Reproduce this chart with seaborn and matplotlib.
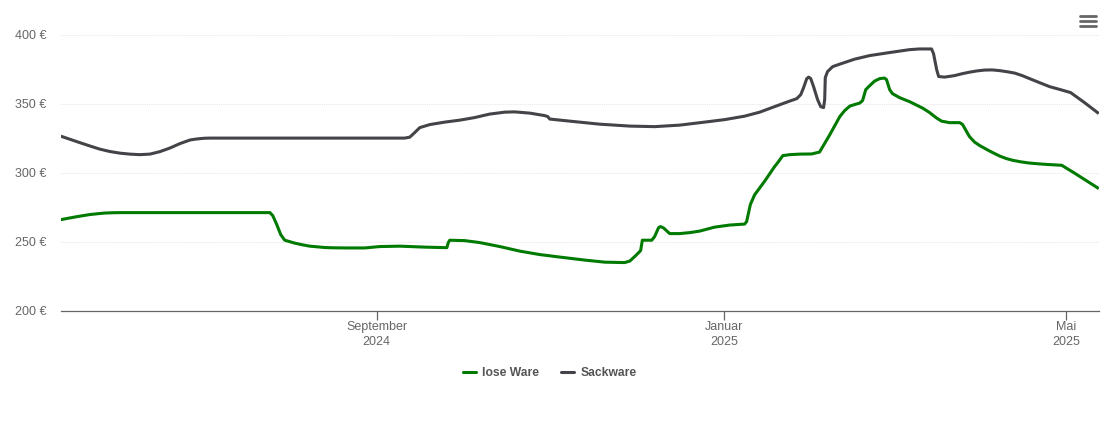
import matplotlib
matplotlib.use("Agg")
import matplotlib.pyplot as plt
from matplotlib.lines import Line2D
import pandas as pd
import seaborn as sns

# x values: days relative to 1 September 2024
green_days = [-110.9,-106,-103.4,-100.7,-98,-95.4,-92.8,-90.2,-37.5,-36.5,-35.1,-33.7,-32.3,-28.8,-26.2,-23.5,-18.2,-15,-11.2,-4.2,1,8.1,16.8,24.6,25.1,25.6,30.9,36.1,43.2,50.2,57.2,64.2,73,80,87,88.8,90.9,92.6,93.2,96.5,97.5,98.9,99.6,100.7,102.8,106.3,109.8,113.3,118.6,123.9,129.1,129.8,131.1,132.6,136.1,139.6,141,142.5,144.9,148.4,152.6,155.4,159,162.5,164.2,166,167.7,169.5,170.5,171.6,173,174.7,176.5,178.2,178.9,180,181,183.5,187,191.6,194,196.5,198.2,201,204.6,205.6,208,209.8,211.6,215.1,218.6,220.9,223.2,226,229.1,232.6,236.1,240.4,244.9,253.4]
green_vals = [265.9,267.8,268.7,269.6,270.2,270.7,270.9,271,271,268.8,262.3,255,251,248.9,247.7,246.7,245.7,245.5,245.4,245.4,246.4,246.7,246,245.6,249.3,251,250.7,249.3,246.4,243.1,240.6,238.8,236.6,235.1,234.8,235.9,239.9,243.5,251,251,253.6,260.1,260.9,259.8,255.8,255.8,256.5,257.6,260.5,262,262.7,264.5,276.8,283.9,293.7,304.3,308,312.3,313,313.4,313.5,314.9,327.5,340.6,344.9,348.2,349.3,350.4,352.2,360.1,363,366.3,368.1,368.5,367.4,360.1,357.2,354.3,351.4,346.7,343.5,339.5,337.3,336.2,336.2,334.8,326.1,322.1,319.6,315.6,312,310.2,308.9,307.8,306.9,306.3,305.8,305.3,299.6,288.4]
dark_days = [-110.9,-104.2,-100.7,-97.2,-93.7,-90.2,-86.7,-83.2,-79.6,-76.1,-72.6,-69.1,-65.6,-63.8,-62.1,-60.4,-58.6,9.8,11.6,13.3,15.1,18.6,23.9,29.1,34.4,39.6,44.9,48.4,53.7,58.9,60,60.7,67.7,78.2,88.8,97.5,106.3,115.1,122.1,129.1,134.4,139.6,144.9,147.4,148.8,149.8,150.9,151.6,152.3,153.3,154.7,155.8,156.8,157.2,157.4,158.2,160,162.5,167.7,173,180,187,190.5,194.7,195.4,196.5,197.2,199.3,202.8,205.5,208.1,210.7,213.3,216,218.6,221.2,223.9,226.5,229.1,232.6,236.1,239.8,243.5,248.4,253.4]
dark_vals = [326.4,321.7,319.3,317,315.3,314.1,313.4,313,313.4,315.2,317.8,321,323.6,324.2,324.6,324.9,325,325,325.7,329,332.6,334.8,336.6,338,339.9,342.4,343.8,344,343.1,341.3,340.6,338.8,337.3,335.1,333.7,333.3,334.4,336.6,338.4,340.9,343.8,347.8,351.8,353.6,356.5,361.6,368.1,369.2,368.1,362.3,352.9,347.8,347.1,352.9,368.8,373.2,376.8,378.6,382.2,384.8,387,389.1,389.6,389.6,386.2,374.6,369.6,369.2,370.3,371.7,372.8,373.7,374.3,374.4,373.9,373.1,372.1,370.3,368.1,365.2,362.3,360.2,358,350.7,342.8]
series_names = ["lose Ware", "Sackware"]
x_ticks = [0, 122, 242]
x_labels = ["September\n2024", "Januar\n2025", "Mai\n2025"]
y_ticks = [200, 250, 300, 350, 400]
y_labels = ["200 €", "250 €", "300 €", "350 €", "400 €"]

sns.set_theme(style="white")
plt.rcParams["font.family"] = ["Liberation Sans", "DejaVu Sans"]

df = pd.concat([
    pd.DataFrame({"day": green_days, "price": green_vals, "series": series_names[0]}),
    pd.DataFrame({"day": dark_days, "price": dark_vals, "series": series_names[1]}),
])

fig = plt.figure(figsize=(11.1, 4.22), dpi=100)
ax = fig.add_axes([60.8/1110, 1-310.6/422, (1098.8-60.8)/1110, (310.6-34.6)/422])
sns.lineplot(data=df, x="day", y="price", hue="series", palette=["#007a00", "#434348"],
             estimator=None, sort=False, linewidth=2.2, ax=ax, legend=False, zorder=3)
for l in ax.get_lines():
    l.set_solid_joinstyle("round")
    l.set_solid_capstyle("butt")

ax.set_xlim(-110.9, 253.4)
ax.set_ylim(200, 400)
ax.set_xlabel("")
ax.set_ylabel("")
ax.set_xticks(x_ticks, x_labels)
ax.set_yticks(y_ticks, y_labels)
ax.tick_params(axis="x", length=6.2, width=0.9, color="#666666", labelsize=9, labelcolor="#666666", pad=1.2, bottom=True)
ax.tick_params(axis="y", length=0, labelsize=9, labelcolor="#666666", pad=10.6)
ax.grid(axis="y", color="#e6e6e6", linewidth=0.7, linestyle=(0, (1, 1)))
ax.set_axisbelow(True)
for s in ["top", "left", "right"]:
    ax.spines[s].set_visible(False)
ax.spines["bottom"].set_color("#666666")
ax.spines["bottom"].set_linewidth(0.9)
for t in ax.get_xticklabels():
    t.set_linespacing(1.3)

handles = [Line2D([], [], color="#007a00", lw=2.2), Line2D([], [], color="#434348", lw=2.2)]
fig.legend(handles, series_names, loc="center", bbox_to_anchor=(550/1110, 1-373.5/422), ncol=2,
           frameon=False, handlelength=1.08, handletextpad=0.5, columnspacing=1.82,
           prop={"weight": "bold", "size": 8.7}, labelcolor="#555555")

for y in [16, 21, 26]:
    fig.add_artist(Line2D([1080/1110, 1096/1110], [1-y/422, 1-y/422], color="#666666", lw=2.0,
                          transform=fig.transFigure))

fig.savefig("out.png", dpi=100)
